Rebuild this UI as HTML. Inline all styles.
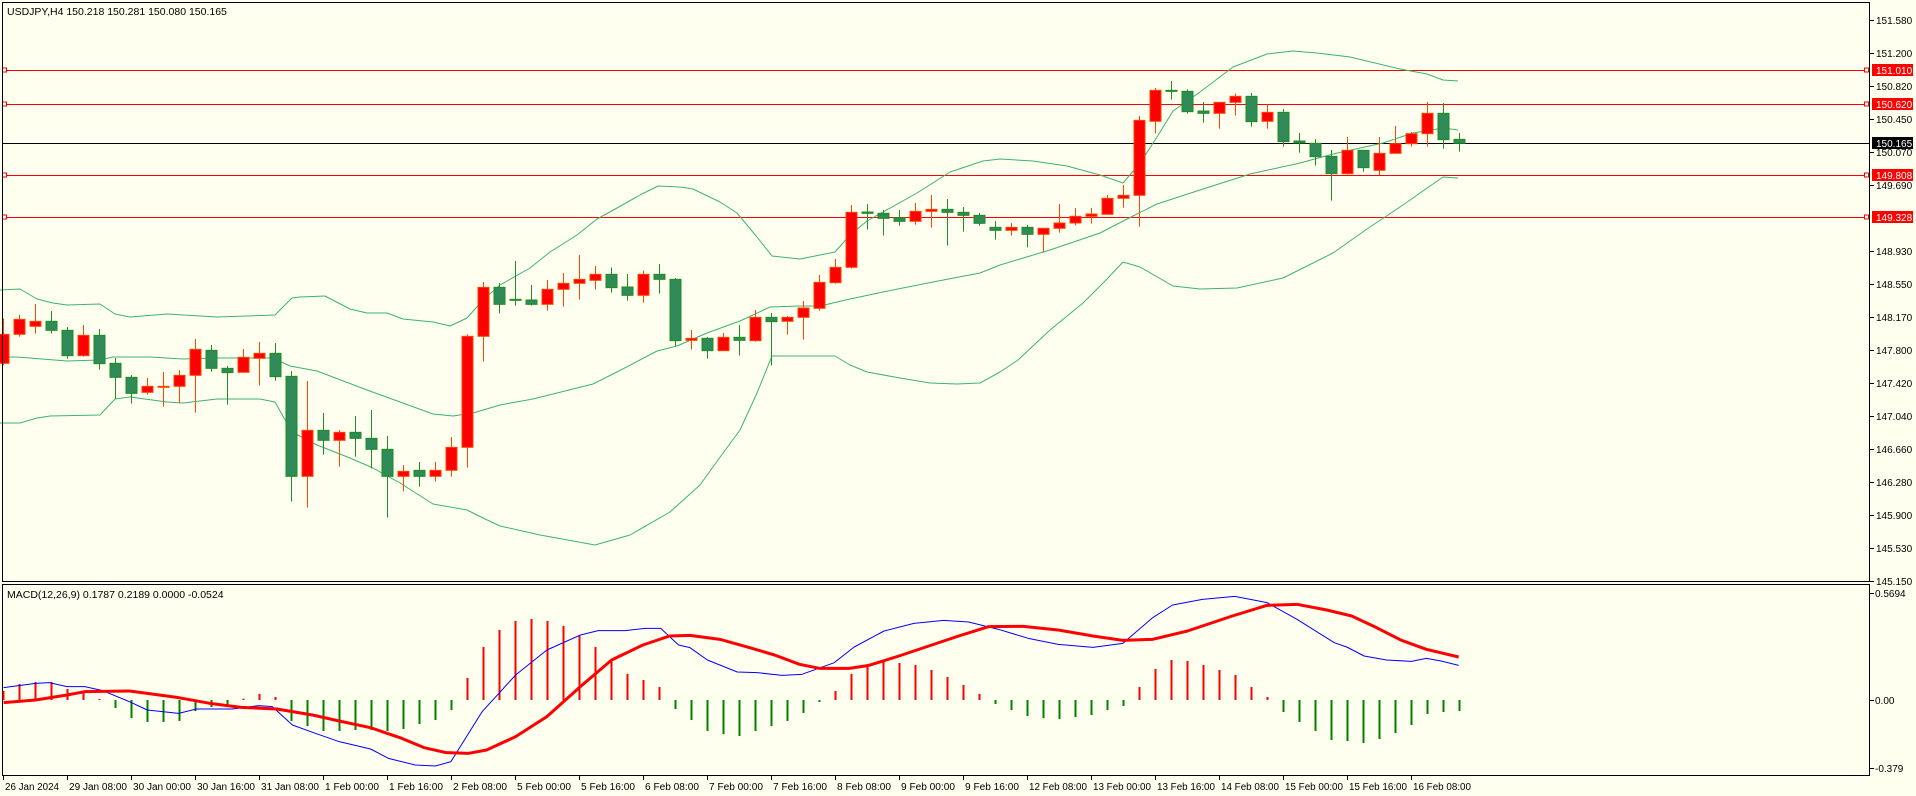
<!DOCTYPE html>
<html><head><meta charset="utf-8">
<style>
html,body{margin:0;padding:0;background:#fffff0;}
svg{display:block;}
text{font-family:"Liberation Sans",sans-serif;font-size:10.5px;fill:#000;}
text.ax{font-size:10px;}
</style></head>
<body>
<svg id="s" width="1916" height="796" xmlns="http://www.w3.org/2000/svg">
<rect x="0" y="0" width="1916" height="796" fill="#fffff0"/>
<g id="g"></g>
<text x="7" y="15">USDJPY,H4  150.218 150.281 150.080 150.165</text>
<text x="7" y="598">MACD(12,26,9) 0.1787 0.2189 0.0000 -0.0524</text>
</svg>
<script>
var NS="http://www.w3.org/2000/svg",G=document.getElementById('g');
function el(t,a,txt){var e=document.createElementNS(NS,t);for(var k in a)e.setAttribute(k,a[k]);if(txt!=null)e.textContent=txt;G.appendChild(e);return e;}
function bx(i){return 3.3+16*i;}
[[70,'#ff0000','151.010'],[104,'#ff0000','150.620'],[175,'#ff0000','149.808'],[217,'#ff0000','149.328']].forEach(function(l){
 el('line',{x1:2,x2:1868,y1:l[0]+.5,y2:l[0]+.5,stroke:l[1],'stroke-width':1});
 el('rect',{x:2.5,y:l[0]-2,width:4,height:4,fill:'#fffff0',stroke:'#ff0000','stroke-width':1});
 el('rect',{x:1864.5,y:l[0]-2,width:4,height:4,fill:'#fffff0',stroke:'#ff0000','stroke-width':1});
});
el('line',{x1:2,x2:1870,y1:143.5,y2:143.5,stroke:'#000','stroke-width':1});
function pl(pts,col,w){el('polyline',{points:pts.map(function(p){return p[0]+','+p[1]}).join(' '),fill:'none',stroke:col,'stroke-width':w,'stroke-linejoin':'round'});}
var up=[[0,290],[20,289],[37,299],[53,303],[67,305],[100,304],[115,314],[130,317],[167,314],[217,317],[275,315],[292,298],[300,297],[325,296],[350,309],[367,313],[387,313],[403,319],[433,322],[450,326],[467,318],[483,300],[500,285],[530,268],[550,252],[577,235],[597,219],[617,208],[640,195],[658,186],[680,187],[693,189],[720,202],[737,213],[757,237],[772,256],[800,259],[835,252],[850,235],[867,221],[883,212],[917,193],[950,172],[983,161],[1000,159],[1033,161],[1067,166],[1100,175],[1123,183],[1140,163],[1157,137],[1173,111],[1200,92],[1233,67],[1267,54],[1293,51],[1317,53],[1350,57],[1400,69],[1427,74],[1443,80],[1458,81]];
var md=[[0,357],[17,357],[67,361],[100,360],[113,357],[150,357],[183,359],[217,358],[273,358],[290,366],[317,371],[367,390],[433,414],[453,416],[473,413],[500,405],[533,399],[593,384],[617,372],[657,351],[677,346],[707,333],[740,321],[770,307],[800,306],[820,306],[850,299],[883,292],[933,282],[980,273],[1000,265],[1050,250],[1100,233],[1133,216],[1157,204],[1200,190],[1250,174],[1300,163],[1333,154],[1383,143],[1413,133],[1443,128],[1458,130]];
var lo=[[0,423],[20,423],[37,418],[50,416],[100,415],[115,399],[130,397],[167,402],[183,403],[217,399],[260,399],[275,402],[292,432],[317,445],[350,458],[373,468],[400,483],[433,504],[467,510],[483,518],[500,526],[540,535],[595,545],[630,535],[670,512],[700,485],[718,460],[740,430],[757,393],[772,356],[780,356],[835,356],[850,365],[867,372],[900,378],[930,383],[957,384],[980,383],[1000,372],[1018,360],[1050,330],[1083,303],[1107,279],[1123,262],[1140,267],[1173,286],[1200,289],[1237,288],[1283,278],[1333,253],[1367,229],[1400,207],[1443,177],[1458,178]];
pl(up,'#3cb371',1);pl(md,'#3cb371',1);pl(lo,'#3cb371',1);
var A=[[0,'r',253,340,205,345],[1,'r',208,253,195,260],[2,'r',214,229,162,251],[3,'g',214,241,183,251],[4,'g',241,317,231,326],[5,'r',256,317,225,320],[6,'g',256,341,237,359],[7,'g',340,382,324,447],[8,'g',382,430,375,461],[9,'r',409,427,384,434],[10,'r',409,412,366,470],[11,'r',376,409,360,460],[12,'r',298,376,267,488],[13,'g',301,355,285,365],[14,'g',355,368,348,464],[15,'r',322,367,297,367],[16,'r',310,325,276,407],[17,'g',310,380,279,392],[18,'g',379,679,363,755],[19,'r',541,679,393,773],[20,'g',541,571,489,614],[21,'r',547,571,540,650],[22,'g',547,565,498,620],[23,'g',565,598,480,655],[24,'g',598,679,558,803],[25,'r',664,679,645,724],[26,'g',661,679,636,710],[27,'r',661,679,636,695],[28,'r',592,661,561,680],[29,'r',259,592,253,653],[30,'r',112,259,96,335],[31,'g',112,163,99,190]];
var B=[[32,'g',478,481,363,497],[33,'g',480,493,435,497],[34,'r',448,493,420,512],[35,'r',430,448,399,500],[36,'r',418,430,345,479],[37,'r',403,421,378,449],[38,'g',403,443,383,458],[39,'g',441,466,402,482],[40,'r',403,466,392,488],[41,'g',403,418,372,461],[42,'g',418,602,414,619],[43,'r',595,601,570,629],[44,'g',595,632,591,656],[45,'r',592,632,579,632],[46,'g',592,601,555,647],[47,'r',532,602,510,605],[48,'g',532,545,519,677],[49,'r',532,544,528,584],[50,'r',504,532,483,599],[51,'r',427,505,405,512],[52,'r',382,428,357,431],[53,'r',217,382,195,386],[54,'g',216,220,192,269],[55,'g',220,235,210,287],[56,'g',233,244,210,257],[57,'r',214,244,189,254],[58,'r',208,214,165,263],[59,'g',208,217,177,317],[60,'g',217,226,201,275],[61,'g',226,250,219,257],[62,'g',262,271,243,299]];
var C=[[63,'r',562,571,549,587],[64,'g',562,583,555,622],[65,'r',565,583,563,637],[66,'r',549,565,492,578],[67,'r',529,549,504,556],[68,'r',522,529,504,551],[69,'r',475,523,465,523],[70,'r',466,475,435,503],[71,'r',241,466,228,560],[72,'r',151,244,144,280],[73,'g',151,154,123,179],[74,'g',154,215,148,221],[75,'g',213,220,186,248],[76,'r',187,220,187,266],[77,'r',169,187,161,227],[78,'g',169,245,159,260],[79,'r',217,244,195,266],[80,'g',217,305,207,320],[81,'g',303,309,279,338],[82,'g',310,350,297,377],[83,'g',349,401,330,482],[84,'r',331,401,291,404],[85,'g',331,383,331,395],[86,'r',340,391,291,405],[87,'r',311,340,258,340],[88,'r',281,311,276,320],[89,'r',220,281,186,320],[90,'g',220,299,189,326],[91,'g',298,310,279,335]];
function draw(arr,off){arr.forEach(function(c){
 var x=Math.round(bx(c[0])),bt=off+c[2]/3,bb=off+c[3]/3,wt=off+c[4]/3,wb=off+c[5]/3;
 var red=c[1]=='r',wc=red?'#ff4500':'#228b22',fc=red?'#ff0000':'#2e8b57',sc=red?'#ff4500':'#228b22';
 el('line',{x1:x+.5,x2:x+.5,y1:wt,y2:wb,stroke:wc,'stroke-width':1});
 var h=Math.max(bb-bt,1);
 el('rect',{x:x-5,y:bt,width:11,height:h,fill:fc,stroke:sc,'stroke-width':1});
});}
draw(A,250);draw(B,140);draw(C,40);
el('rect',{x:2.5,y:2.5,width:1867,height:579,fill:'none',stroke:'#000','stroke-width':1});
el('rect',{x:2.5,y:584.5,width:1867,height:191,fill:'none',stroke:'#000','stroke-width':1});
var pl2=['151.580','151.200','150.820','150.450','150.070','149.690','149.310','148.930','148.550','148.170','147.800','147.420','147.040','146.660','146.280','145.900','145.530','145.150'];
pl2.forEach(function(t,i){var y=20+33*i;if(i==6)return;el('line',{x1:1870,x2:1874,y1:y+.5,y2:y+.5,stroke:'#000'});el('text',{x:1876,y:y+4,'class':'ax'},t);});
[[70,'#ff0000','151.010'],[104,'#ff0000','150.620'],[143,'#000','150.165'],[175,'#ff0000','149.808'],[217,'#ff0000','149.328']].forEach(function(l){
 el('rect',{x:1872,y:l[0]-6,width:41,height:12,fill:l[1]});
 var t=el('text',{x:1876,y:l[0]+4,'class':'ax'},l[2]);t.setAttribute('style','fill:#fff');
});
[[593,'0.5694'],[700,'0.00'],[768,'-0.379']].forEach(function(a){el('line',{x1:1870,x2:1874,y1:a[0]+.5,y2:a[0]+.5,stroke:'#000'});el('text',{x:1875,y:a[0]+4,'class':'ax'},a[1]);});
var H=[9,16,18,18,11,8,1,-8,-18,-22,-22,-21,-11,-7,-6,1.3,6,3,-21,-26,-31,-31,-30,-30,-31,-29,-24,-20,-10,22,53,70,79,81,79,74,64,53,41,26,20,13,-9,-20,-31,-34,-36,-31,-26,-21,-13,-2,9,26,35,39,37,35,30,23,15,6,-4,-10,-16,-18,-19,-17,-15,-10,-6,13,31,40,39,35,30,25,13,3,-12,-22,-31,-40,-41,-43,-39,-33,-25,-14,-12,-11];
H.forEach(function(v,i){var x=Math.round(bx(i));el('rect',{x:x-.5,y:v>0?700-v:700,width:2,height:Math.abs(v),fill:v>0?'#ff0000':'#008000'});});
function cv(p,xs,xo,yo){return p.map(function(q){return [xo+q[0]/xs,yo+q[1]/3];});}
var b1=cv([[8,383],[80,370],[110,368],[150,380],[190,380],[230,392],[290,425],[330,450],[400,460],[440,447],[520,447],[580,437],[610,440],[655,495],[700,517],[760,545],[830,567],[870,595],[930,615],[975,618],[1010,605],[1045,530],[1080,455],[1155,345],[1225,270],[1300,225],[1340,212],[1400,212],[1445,205],[1480,205],[1520,255]],2.24,0,560);
var b2=cv([[0,185],[35,222],[95,258],[135,260],[185,268],[225,265],[290,230],[330,183],[390,135],[450,112],[510,103],[560,108],[620,130],[680,157],[740,175],[810,184],[870,172],[930,95],[970,57],[1030,40],[1095,31],[1160,50],[1220,100],[1295,170],[1320,183],[1355,210],[1400,222],[1450,226],[1480,217],[1510,225],[1545,238]],2.01,690,586);
var r1=cv([[8,428],[80,420],[150,405],[190,395],[290,393],[330,400],[400,413],[470,430],[540,442],[620,447],[700,465],[760,483],[830,503],[900,535],[950,563],[1000,578],[1050,580],[1090,570],[1155,530],[1225,470],[1300,380],[1370,300],[1440,255],[1500,228]],2.24,0,560);
var r2=cv([[0,148],[60,160],[120,185],[170,207],[220,235],[260,247],[320,247],[360,238],[420,210],[480,180],[540,150],[600,122],[670,121],[740,132],[810,150],[870,163],[930,160],[1000,135],[1090,90],[1160,58],[1220,55],[1280,72],[1330,90],[1380,125],[1430,163],[1480,190],[1545,213]],2.01,690,586);
pl(b1.concat(b2),'#0000ff',1);pl(r1.concat(r2),'#ff0000',3);
var TL=["26 Jan 2024","29 Jan 08:00","30 Jan 00:00","30 Jan 16:00","31 Jan 08:00","1 Feb 00:00","1 Feb 16:00","2 Feb 08:00","5 Feb 00:00","5 Feb 16:00","6 Feb 08:00","7 Feb 00:00","7 Feb 16:00","8 Feb 08:00","9 Feb 00:00","9 Feb 16:00","12 Feb 08:00","13 Feb 00:00","13 Feb 16:00","14 Feb 08:00","15 Feb 00:00","15 Feb 16:00","16 Feb 08:00"];
TL.forEach(function(t,k){var x=3+64*k;el('line',{x1:x+.5,x2:x+.5,y1:776,y2:780,stroke:'#000'});var e=el('text',{x:x+2,y:790,'class':'ax'},t);e.setAttribute('textLength',t.length>11?58:(t.length>10?54:52));e.setAttribute('lengthAdjust','spacingAndGlyphs');});
</script>
</body></html>
